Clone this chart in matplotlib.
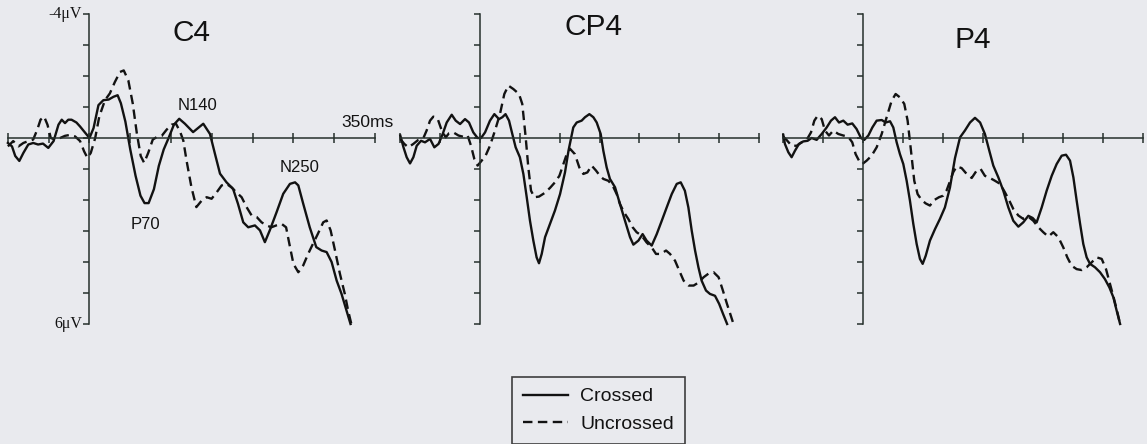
import matplotlib
matplotlib.use("Agg")
import matplotlib.pyplot as plt

plt.rcParams['font.family'] = ['Liberation Sans', 'DejaVu Sans']

# ---------------- data (time in ms, amplitude in µV; negative plotted up) -------------
panels = ["C4", "CP4", "P4"]
legend_labels = ["Crossed", "Uncrossed"]

c4_crossed_t = [-100, -95, -91, -86, -81, -75, -69, -63, -57, -50.5, -44, -38, -34, -30, -26, -22, -16, -11.5, -5, 0,
                5, 11, 17, 23.5, 29.5, 34.5, 38.5, 44, 50, 56.5, 62.5, 67.5, 72.5, 79, 85, 91, 97, 103.5, 110, 117,
                127, 139.5, 147.7, 153.8, 160, 168, 176, 182, 188.5, 194.6, 202.8, 209, 215, 221, 229.4, 237.5, 245.7,
                252, 256, 262, 270, 278, 284.6, 290.7, 296.8, 303, 309, 315, 320]
c4_crossed_v = [0.16, 0.27, 0.58, 0.74, 0.48, 0.21, 0.16, 0.21, 0.18, 0.32, 0.1, -0.43, -0.59, -0.48, -0.59, -0.59, -0.5,
                -0.37, -0.16, 0, -0.32, -1.06, -1.22, -1.24, -1.33, -1.38, -1.12, -0.53, 0.37, 1.22, 1.86, 2.1, 2.1,
                1.65, 0.9, 0.37, 0, -0.43, -0.62, -0.46, -0.19, -0.46, -0.13, 0.51, 1.15, 1.43, 1.64, 2.12, 2.72, 2.88,
                2.82, 2.98, 3.36, 2.98, 2.39, 1.8, 1.48, 1.43, 1.53, 2.12, 2.88, 3.52, 3.63, 3.68, 4.0, 4.6, 5.03,
                5.56, 6.0]

c4_uncrossed_t = [-100, -93.5, -87, -81, -75, -69, -64, -60, -55.6, -51.5, -47.4, -42, -36, -30, -24, -17.6, -11.5,
                  -6.6, -2.5, 1.6, 7, 12, 19, 25, 31, 37.4, 42, 47.6, 53, 58, 62.8, 67, 72, 77.6, 82.5, 88.6, 94.6,
                  100.7, 106, 111, 115, 119, 125, 131, 137.5, 143.6, 149.7, 156, 162, 168, 174, 180, 186.5, 192.6,
                  198.8, 205, 211, 217, 223, 229, 235.5, 241, 245, 250, 256, 262, 268, 274, 280, 286.5, 290.7, 295.6,
                  301, 307, 313, 317, 321]
c4_uncrossed_v = [0.27, 0.1, 0.27, 0.16, 0.1, 0.05, -0.27, -0.59, -0.69, -0.43, 0, 0.05, 0, -0.07, -0.1, -0.05, 0.1,
                  0.43, 0.64, 0.48, 0, -0.69, -1.22, -1.44, -1.8, -2.13, -2.18, -1.86, -1.12, -0.16, 0.58, 0.8, 0.48,
                  0.05, -0.03, -0.07, -0.27, -0.43, -0.46, -0.21, 0.08, 0.73, 1.59, 2.23, 2.02, 1.91, 1.96, 1.75, 1.53,
                  1.48, 1.59, 1.75, 1.91, 2.23, 2.5, 2.55, 2.72, 2.82, 2.88, 2.82, 2.77, 2.88, 3.41, 4.06, 4.33, 4.11,
                  3.74, 3.41, 3.09, 2.72, 2.66, 2.98, 3.63, 4.38, 5.03, 5.56, 6.0]

cp4_crossed_t = [-100, -96, -92, -87.8, -83.6, -79.4, -74, -69, -62.7, -57.3, -52, -46.8, -41.8, -35.5, -30.5, -25,
                 -18.8, -13.8, -8.4, -3, 1.3, 6.3, 12.5, 18, 23.8, 28, 32, 36.4, 40.5, 44.7, 50, 54.4, 58.6, 62.7,
                 66.9, 71, 74, 77.4, 81.6, 87.8, 94, 100.4, 106.6, 111, 117, 121.3, 127.5, 131.7, 137.2, 142.2, 146.4,
                 151.4, 154.7, 158.9, 163, 169.4, 175.6, 181.9, 188.2, 192.4, 198.7, 204, 209, 215.4, 221.7, 228,
                 234.2, 240.5, 246.8, 251.8, 257, 261.4, 265.6, 269.8, 274, 278, 283.5, 288.5, 294.8, 300, 305, 310]
cp4_crossed_v = [-0.08, 0.3, 0.62, 0.82, 0.62, 0.25, 0.09, 0.14, 0.03, 0.3, 0.19, -0.13, -0.5, -0.75, -0.56, -0.45,
                 -0.61, -0.5, -0.18, 0, 0, -0.18, -0.56, -0.77, -0.61, -0.67, -0.77, -0.56, -0.13, 0.3, 0.62, 1.16,
                 1.91, 2.67, 3.31, 3.85, 4.04, 3.74, 3.2, 2.77, 2.34, 1.81, 1.11, 0.41, -0.34, -0.5, -0.56, -0.67,
                 -0.77, -0.67, -0.5, -0.13, 0.41, 0.95, 1.32, 1.59, 2.13, 2.67, 3.2, 3.44, 3.31, 3.1, 3.31, 3.47, 3.1,
                 2.67, 2.24, 1.81, 1.48, 1.43, 1.7, 2.24, 2.99, 3.63, 4.17, 4.6, 4.92, 5.03, 5.09, 5.35, 5.68, 6.0]

cp4_uncrossed_t = [-100, -95, -90, -83.6, -77.4, -71, -67, -62.7, -58.5, -53, -48, -43, -39, -33.4, -27, -21, -15.5,
                   -11.3, -7.1, -3, 2.1, 7, 12.5, 18.8, 25, 30.5, 35.6, 41.8, 48.9, 53, 57.3, 60.6, 64, 68.2, 74, 80.7,
                   87.8, 94, 99.6, 104.6, 108.8, 113, 119, 124.6, 129.6, 134.7, 140, 145.5, 150.5, 154.7, 161, 166.5,
                   171.5, 175.6, 180.7, 186, 191.5, 196.5, 202.8, 209, 215.4, 220.8, 226.7, 233.4, 238.4, 244.7, 250,
                   255.4, 261.7, 268, 274.3, 280.6, 286.9, 293, 299.3, 304.7, 309.8, 314, 318]
cp4_uncrossed_v = [0.03, 0.19, 0.3, 0.19, 0.06, 0, -0.24, -0.56, -0.69, -0.61, -0.24, -0.02, -0.15, -0.18, -0.08,
                   -0.04, -0.08, 0.25, 0.68, 0.89, 0.73, 0.57, 0.25, -0.24, -0.77, -1.42, -1.69, -1.58, -1.42, -1.1,
                   -0.02, 0.95, 1.7, 1.91, 1.89, 1.78, 1.61, 1.43, 1.22, 0.84, 0.52, 0.35, 0.52, 0.95, 1.16, 1.11, 0.89,
                   1.05, 1.22, 1.32, 1.38, 1.54, 1.81, 2.13, 2.4, 2.61, 2.88, 3.04, 3.15, 3.37, 3.53, 3.74, 3.74, 3.63,
                   3.74, 3.96, 4.28, 4.6, 4.76, 4.76, 4.66, 4.49, 4.37, 4.33, 4.49, 4.92, 5.35, 5.68, 6.0]

p4_crossed_t = [-100, -98, -93.7, -89.6, -85.4, -80.4, -75, -69.6, -64.6, -58.3, -52, -45.8, -40.4, -35.4, -30.4, -25,
                -19.6, -13.8, -8.4, -2.9, 1.25, 6.3, 11.3, 16.7, 23, 28, 33.4, 37.5, 41.7, 45.8, 50, 54.2, 58.3, 62.5,
                66.7, 70.8, 74.2, 78, 83.3, 89.6, 95.8, 102, 108.3, 114.6, 120.9, 127, 133.4, 139.6, 146, 152, 157.5,
                162.5, 168.8, 175, 181.3, 187.5, 193.8, 200, 206.3, 211.7, 216.7, 223, 229.2, 235.5, 241.7, 248,
                253.4, 258.4, 262.6, 266.7, 271, 275, 279.2, 283.4, 289.6, 295.9, 302, 307.6, 312.6, 316.7, 321]
p4_crossed_v = [-0.1, 0.19, 0.46, 0.62, 0.41, 0.19, 0.11, 0.09, 0, 0.06, -0.13, -0.34, -0.56, -0.67, -0.5, -0.56, -0.43,
                -0.47, -0.29, 0, 0.06, -0.08, -0.34, -0.56, -0.58, -0.5, -0.54, -0.34, 0.14, 0.52, 0.84, 1.38, 2.02,
                2.77, 3.42, 3.9, 4.06, 3.8, 3.31, 2.94, 2.61, 2.24, 1.6, 0.65, -0.02, -0.24, -0.5, -0.65, -0.5, -0.13,
                0.41, 0.89, 1.27, 1.7, 2.24, 2.67, 2.86, 2.72, 2.51, 2.58, 2.72, 2.24, 1.7, 1.22, 0.84, 0.57, 0.54,
                0.73, 1.27, 2.02, 2.77, 3.42, 3.85, 4.06, 4.17, 4.33, 4.55, 4.82, 5.14, 5.57, 6.0]

p4_uncrossed_t = [-100, -96, -89.6, -83.3, -77, -70.8, -65.4, -61.2, -57, -52, -47.9, -42.9, -37.5, -31.3, -25, -18.8,
                  -13.8, -9.6, -5.4, -1.25, 4.2, 10.4, 16.7, 23, 29.2, 35.4, 40.4, 45.8, 51.2, 55.4, 59.6, 63.7, 67.9,
                  72.9, 78, 83.3, 88.8, 94.6, 100, 104, 108.3, 112.5, 116.7, 122.9, 129.2, 135.5, 141.7, 146.7, 152,
                  158.4, 164.6, 171, 177, 182.5, 187.5, 193.8, 200, 206.3, 212.5, 218.8, 225, 231.3, 237.5, 243.8,
                  250, 255, 260.4, 266.7, 273, 279.2, 285.5, 291.7, 298, 303.4, 308.4, 313.4, 317.6, 321]
p4_uncrossed_v = [-0.04, 0.06, 0.25, 0.25, 0.14, 0.06, -0.18, -0.56, -0.72, -0.61, -0.24, -0.08, -0.24, -0.13, -0.08,
                  -0.04, 0.14, 0.52, 0.73, 0.84, 0.73, 0.57, 0.3, -0.13, -0.67, -1.2, -1.42, -1.31, -1.1, -0.56, 0.41,
                  1.38, 1.81, 2.0, 2.11, 2.18, 2.0, 1.91, 1.86, 1.7, 1.4, 1.1, 0.92, 0.97, 1.16, 1.29, 1.05, 1.0, 1.22,
                  1.29, 1.38, 1.48, 1.75, 2.02, 2.29, 2.5, 2.61, 2.54, 2.67, 2.88, 3.04, 3.18, 3.04, 3.2, 3.53, 3.85,
                  4.12, 4.23, 4.26, 4.17, 4.01, 3.85, 3.9, 4.23, 4.71, 5.19, 5.62, 6.0]

x_ticks = [-100, -50, 0, 50, 100, 150, 200, 250, 300, 350]
y_ticks = [-4, -3, -2, -1, 0, 1, 2, 3, 4, 5, 6]

# ---------------- style ----------------
BG = "#e9eaee"
AX = "#26302c"
INK = "#121212"
W, H = 1147, 444

fig = plt.figure(figsize=(W / 100, H / 100), dpi=100)
fig.patch.set_facecolor(BG)

# pixel extents of each panel: (left px at -100 ms, right px at 350 ms)
extents = [(7.9, 375.0), (400.3, 759.0), (783.3, 1143.3)]
top_px, bot_px = 14.0, 324.0

series = [
    (c4_crossed_t, c4_crossed_v, c4_uncrossed_t, c4_uncrossed_v),
    (cp4_crossed_t, cp4_crossed_v, cp4_uncrossed_t, cp4_uncrossed_v),
    (p4_crossed_t, p4_crossed_v, p4_uncrossed_t, p4_uncrossed_v),
]
title_pos = [(125, -3.39), (142, -3.58), (137, -3.16)]

axes = []
handles = None
for i, (name, (l, r), data) in enumerate(zip(panels, extents, series)):
    ax = fig.add_axes([l / W, 1 - bot_px / H, (r - l) / W, (bot_px - top_px) / H])
    ax.set_facecolor("none")
    ax.set_xlim(-100, 350)
    ax.set_ylim(6, -4)
    for s in ("top", "right"):
        ax.spines[s].set_visible(False)
    ax.spines["left"].set_position(("data", 0))
    ax.spines["bottom"].set_position(("data", 0))
    for s in ("left", "bottom"):
        ax.spines[s].set_color(AX)
        ax.spines[s].set_linewidth(1.1)
    ax.set_xticks(x_ticks)
    ax.set_yticks(y_ticks)
    ax.set_xticklabels([])
    ax.set_yticklabels([])
    ax.tick_params(axis="x", direction="inout", length=7, width=1.1, color=AX)
    ax.tick_params(axis="y", direction="out", length=4, width=1.1, color=AX)

    ct, cv, ut, uv = data
    h1, = ax.plot(ct, cv, color=INK, lw=1.7, solid_joinstyle="round", clip_on=False, label=legend_labels[0])
    h2, = ax.plot(ut, uv, color=INK, lw=1.7, ls=(0, (4, 2.3)), clip_on=False, label=legend_labels[1])
    if handles is None:
        handles = [h1, h2]

    tx, ty = title_pos[i]
    ax.text(tx, ty, name, fontsize=21.5, ha="center", va="center", color=INK)
    axes.append(ax)

ax0 = axes[0]
ax0.text(-9, -4, "-4\u03bcV", fontsize=11.5, ha="right", va="center", color=INK, family="Liberation Serif")
ax0.text(-9, 6, "6\u03bcV", fontsize=11.5, ha="right", va="center", color=INK, family="Liberation Serif")
ax0.text(341, -0.5, "350ms", fontsize=12.5, ha="center", va="center", color=INK, clip_on=False)
ax0.text(133, -1.06, "N140", fontsize=12, ha="center", va="center", color=INK)
ax0.text(258, 0.94, "N250", fontsize=12, ha="center", va="center", color=INK)
ax0.text(68, 2.8, "P70", fontsize=12, ha="center", va="center", color=INK)

leg = fig.legend(handles, legend_labels, loc="upper left",
                 bbox_to_anchor=(512 / W, 1 - 377 / H), borderaxespad=0,
                 fontsize=14, frameon=True, fancybox=False, handlelength=2.35,
                 handletextpad=0.6, borderpad=0.55, labelspacing=0.52)
leg.get_frame().set_edgecolor(INK)
leg.get_frame().set_linewidth(1.2)
leg.get_frame().set_facecolor(BG)
for t in leg.get_texts():
    t.set_color(INK)

fig.savefig("out.png", dpi=100, facecolor=BG)
